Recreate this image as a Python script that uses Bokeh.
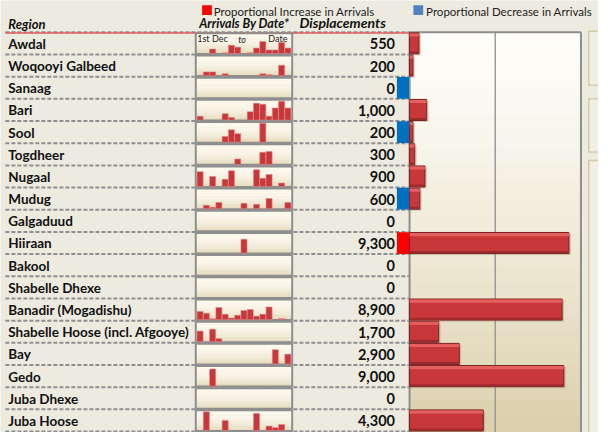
import numpy as np
from bokeh.plotting import figure
from bokeh.models import Range1d, ColumnDataSource
from bokeh.core.properties import value
from bokeh.embed import file_html
from bokeh.resources import INLINE

# ---------------- data ----------------
regions = ["Awdal", "Woqooyi Galbeed", "Sanaag", "Bari", "Sool", "Togdheer",
           "Nugaal", "Mudug", "Galgaduud", "Hiiraan", "Bakool", "Shabelle Dhexe",
           "Banadir (Mogadishu)", "Shabelle Hoose (incl. Afgooye)", "Bay", "Gedo",
           "Juba Dhexe", "Juba Hoose"]
displacements = [550, 200, 0, 1000, 200, 300, 900, 600, 0, 9300, 0, 0,
                 8900, 1700, 2900, 9000, 0, 4300]
trend = ["", "", "decrease", "", "decrease", "", "", "decrease", "", "increase",
         "", "", "", "", "", "", "", ""]
# relative arrivals per period (15 periods, 1st Dec to date), read from sparklines
arrivals_by_date = [
    [0, 0, 14, 0, 2, 26, 20, 0, 2, 17, 38, 11, 11, 35, 17],
    [0, 12, 12, 0, 6, 0, 0, 0, 0, 0, 6, 3, 0, 33, 0],
    [0] * 15,
    [12, 0, 0, 0, 20, 8, 0, 0, 26, 53, 50, 12, 38, 59, 38],
    [0, 0, 0, 0, 18, 39, 27, 0, 0, 0, 60, 0, 0, 0, 0],
    [0, 0, 0, 0, 0, 0, 17, 0, 0, 0, 38, 41, 0, 0, 0],
    [47, 0, 32, 0, 23, 50, 0, 0, 0, 53, 26, 38, 0, 11, 0],
    [0, 11, 5, 20, 0, 0, 0, 17, 0, 14, 0, 32, 0, 0, 20],
    [0] * 15,
    [0, 0, 0, 0, 0, 0, 0, 44, 0, 0, 0, 0, 0, 0, 0],
    [0] * 15,
    [0] * 15,
    [26, 20, 3, 38, 17, 5, 14, 29, 32, 11, 17, 40, 0, 3, 0],
    [34, 0, 40, 10, 0, 0, 0, 0, 0, 0, 0, 0, 0, 0, 0],
    [0, 0, 0, 0, 0, 0, 0, 0, 0, 0, 0, 0, 45, 0, 31],
    [0, 0, 54, 0, 0, 0, 0, 0, 0, 0, 0, 0, 0, 0, 0],
    [0] * 15,
    [0, 59, 0, 0, 32, 0, 0, 0, 0, 54, 0, 14, 9, 19, 0],
]
spark_full = 63.0
trend_colors = {"increase": "#FF0000", "decrease": "#0070C0"}

# ---------------- style ----------------
BG = "#EDEAE0"
FONT = "Lato"
RED = "#C8373A"
GRAY = "#8E8E8E"

n = len(regions)
rows = np.arange(n)

def ry(px):  # reference-pixel y to row units
    return (px - 44.5) / 23.0

W, H = 614.0, 448.0
p = figure(width=598, height=432, output_backend="svg", toolbar_location=None,
           x_range=Range1d(0, W), y_range=Range1d(ry(H), ry(0)),
           x_axis_location=None, y_axis_location=None, min_border=0,
           background_fill_color=BG, border_fill_color=BG, outline_line_color=None)
p.grid.visible = False

# value ranges for the two embedded charts
X0, X1 = 420.0, 596.0      # 0 .. 10000 displacements
disp_max = 10000.0
p.extra_x_ranges["disp"] = Range1d((0 - X0) / (X1 - X0) * disp_max,
                                   (W - X0) / (X1 - X0) * disp_max)
S0, SW = 201.7, 6.44       # sparkline period width
p.extra_x_ranges["spark"] = Range1d((0 - S0) / SW - 0.5, (W - S0) / SW - 0.5)

# ---------------- bar panel background (gradient) ----------------
nb = 24
edges = np.linspace(ry(33), ry(H), nb + 1)
c0 = np.array([254, 253, 248]); c1 = np.array([221, 209, 173])
cols = ["#%02x%02x%02x" % tuple((c0 + (c1 - c0) * (k / (nb - 1)) ** 1.3).astype(int)) for k in range(nb)]
p.quad(left=0, right=disp_max, top=edges[:-1], bottom=edges[1:] + 0.01,
       fill_color=cols, line_color=None, x_range_name="disp")
p.segment(x0=5000, x1=5000, y0=ry(33), y1=ry(H), line_color="#9A9A9A",
          line_width=1.5, x_range_name="disp")
p.segment(x0=[0, disp_max, 0], x1=[0, disp_max, disp_max], y0=[ry(33), ry(33), ry(33)],
          y1=[ry(H), ry(H), ry(33)], line_color=GRAY, line_width=2, x_range_name="disp")

# decorative panels on the far right
p.quad(left=[604, 604, 604], right=[620, 620, 620],
       top=[ry(32), ry(102), ry(166)], bottom=[ry(88), ry(157), ry(470)],
       fill_color="#F1EEE5", line_color="#D8CBA3", line_width=1.5)

# ---------------- separators ----------------
p.segment(x0=5, x1=420, y0=rows - 0.5, y1=rows - 0.5, line_color=GRAY,
          line_width=2, line_dash="4 2")
p.segment(x0=5, x1=420, y0=[n - 0.5], y1=[n - 0.5], line_color=GRAY,
          line_width=2, line_dash="4 2")
p.segment(x0=[5], x1=[420], y0=[-0.47], y1=[-0.47], line_color="#E06060", line_width=1.5)

# ---------------- sparkline boxes ----------------
box_top = rows - 0.455
box_bot = rows + 0.475
nbb = 8
bc0 = np.array([253, 249, 237]); bc1 = np.array([231, 220, 192])
for k in range(nbb):
    f0, f1 = k / nbb, (k + 1) / nbb
    col = "#%02x%02x%02x" % tuple((bc0 + (bc1 - bc0) * (k / (nbb - 1)) ** 2).astype(int))
    p.quad(left=200.5, right=299.5, top=box_top + (box_bot - box_top) * f0,
           bottom=box_top + (box_bot - box_top) * f1 + 0.005,
           fill_color=col, line_color=None)
p.quad(left=200.5, right=299.5, top=box_top, bottom=box_bot, fill_color=None,
       line_color=GRAY, line_width=2)

# sparkline bars
sx, sb, st = [], [], []
for i, vals in enumerate(arrivals_by_date):
    for k, v in enumerate(vals):
        if v > 0:
            sx.append(k); sb.append(box_bot[i] - 0.02)
            st.append(box_bot[i] - 0.02 - v / spark_full * 0.9)
p.vbar(x=sx, width=0.97, bottom=sb, top=st, fill_color=RED, line_color="#DE8A8B",
       line_width=0.6, x_range_name="spark")

p.text(x=[202, 244, 275], y=[ry(39.5), ry(40.5), ry(39.5)], text=["1st Dec", "to", "Date"],
       text_font=value(FONT), text_font_size="9px", text_color="#222",
       text_baseline="middle", text_font_style=["normal", "italic", "normal"])

# ---------------- displacement bars ----------------
bi = [i for i in rows if displacements[i] > 0]
bv = [displacements[i] for i in bi]
bsrc = ColumnDataSource(dict(y=bi, right=bv,
                             sh=[v + 110 for v in bv],
                             ysh=[i + 0.07 for i in bi],
                             yt=[i - 0.38 for i in bi],
                             yb=[i + 0.41 for i in bi]))
p.hbar(y="ysh", left=0, right="sh", height=0.95, source=bsrc, fill_color="#7A6A50",
       fill_alpha=0.28, line_color=None, x_range_name="disp")
p.hbar(y="y", left=0, right="right", height=0.95, source=bsrc, fill_color=RED,
       line_color="#7E2022", line_width=1, x_range_name="disp")
p.hbar(y="yt", left=0, right="right", height=0.14, source=bsrc, fill_color="#E3605F",
       line_color=None, x_range_name="disp")
p.hbar(y="yb", left=0, right="right", height=0.09, source=bsrc, fill_color="#9C2B2D",
       line_color=None, x_range_name="disp")

# ---------------- trend indicators ----------------
ti = [i for i in rows if trend[i]]
p.quad(left=407, right=419.5, top=[i - 0.49 for i in ti], bottom=[i + 0.49 for i in ti],
       fill_color=[trend_colors[trend[i]] for i in ti], line_color=None)

# ---------------- texts ----------------
p.text(x=8, y=rows + 0.02, text=regions, text_font=value(FONT), text_font_size="13.5px",
       text_font_style="bold", text_color="#111111", text_baseline="middle")
p.text(x=405, y=rows + 0.02, text=["{:,}".format(v) for v in displacements],
       text_font=value(FONT), text_font_size="14.5px", text_font_style="bold",
       text_color="#111111", text_baseline="middle", text_align="right")

p.text(x=[8, 204, 307], y=[ry(24), ry(24), ry(23)],
       text=["Region", "Arrivals By Date*", "Displacements"],
       text_font=value(FONT), text_font_size=["13px", "12.5px", "14px"],
       text_font_style="bold italic", text_color="#111111", text_baseline="middle")

# legend
p.quad(left=[207, 424], right=[217, 434], top=[ry(5), ry(5)], bottom=[ry(15), ry(15)],
       fill_color=["#FF0000", "#4F81BD"], line_color=None)
p.text(x=[219, 437], y=[ry(11), ry(11)],
       text=["Proportional Increase in Arrivals", "Proportional Decrease in Arrivals"],
       text_font=value(FONT), text_font_size="11.5px", text_color="#222222",
       text_baseline="middle")

open("out.html", "w").write(file_html(p, INLINE))
